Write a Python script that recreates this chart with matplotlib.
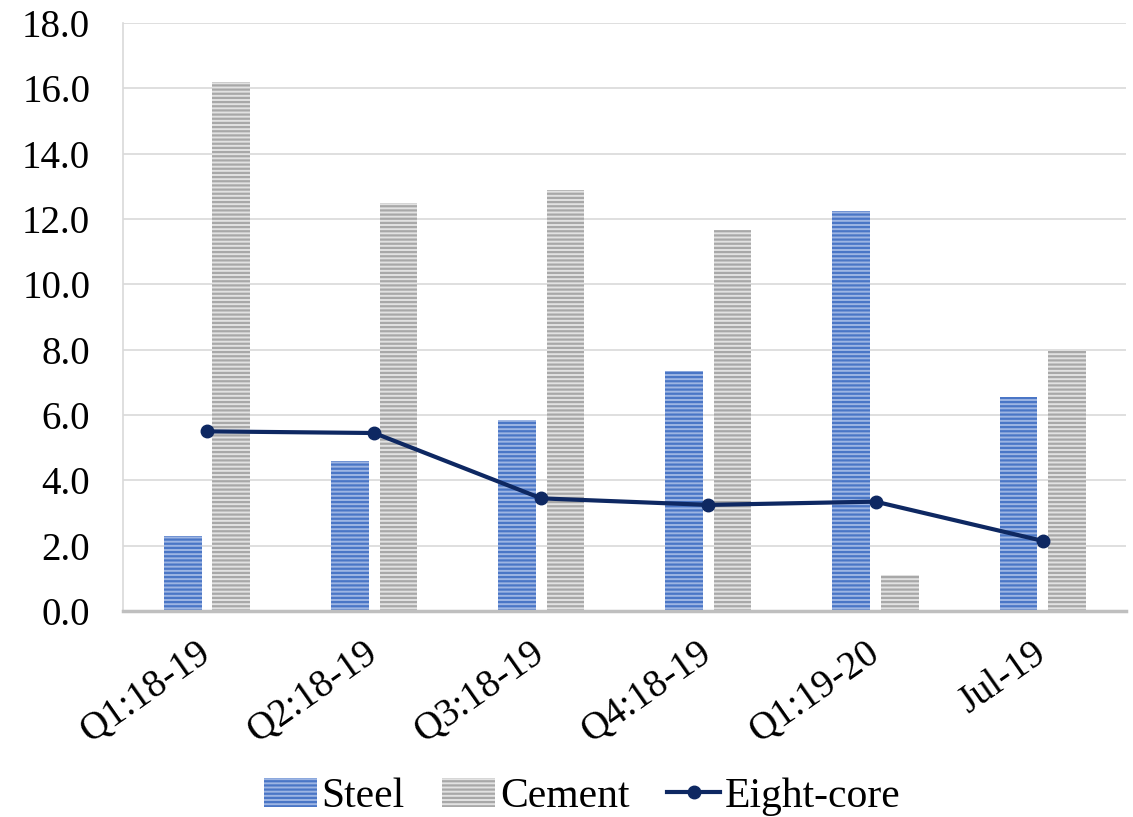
import numpy as np
import matplotlib.pyplot as plt

# data
categories = ['Q1:18-19', 'Q2:18-19', 'Q3:18-19', 'Q4:18-19', 'Q1:19-20', 'Jul-19']
steel      = [2.3, 4.6, 5.85, 7.35, 12.25, 6.55]
cement     = [16.2, 12.5, 12.9, 11.65, 1.1, 7.95]
eight_core = [5.5, 5.45, 3.45, 3.25, 3.35, 2.15]
yticks     = [0, 2, 4, 6, 8, 10, 12, 14, 16, 18]

plt.rcParams['font.family'] = ['Liberation Serif', 'DejaVu Serif']
plt.rcParams['hatch.linewidth'] = 1.6

fig = plt.figure(figsize=(11.33, 8.17), dpi=100)
ax = fig.add_axes([0.109, 0.252, 0.885, 0.72])

x = np.arange(len(categories))
w = 0.225
b1 = ax.bar(x - 0.145, steel, w, color='#9DB5E3', edgecolor='#4A76C6', hatch='----',
            linewidth=0, label='Steel', zorder=2)
b2 = ax.bar(x + 0.145, cement, w, color='#E2E2E2', edgecolor='#A8A8A8', hatch='----',
            linewidth=0, label='Cement', zorder=2)
l1, = ax.plot(x, eight_core, color='#0E2862', linewidth=3, marker='o', markersize=9,
              label='Eight-core', zorder=3)

ax.set_xlim(-0.5, len(categories) - 0.5)
ax.set_ylim(0, 18)
ax.set_yticks(yticks)
ax.set_yticklabels([f'{v:.1f}' for v in yticks], fontsize=28)
ax.set_xticks(x)
ax.set_xticklabels(categories, fontsize=28, rotation=35, ha='right', va='center',
                   rotation_mode='anchor')
ax.tick_params(axis='both', length=0)
ax.tick_params(axis='y', pad=24)
ax.tick_params(axis='x', pad=28)
ax.yaxis.grid(True, color='#D9D9D9', linewidth=1.2, zorder=0)
ax.set_axisbelow(True)

for s in ['top', 'right']:
    ax.spines[s].set_visible(False)
ax.spines['left'].set_color('#D9D9D9')
ax.spines['left'].set_linewidth(1.2)
ax.spines['bottom'].set_color('#BFBFBF')
ax.spines['bottom'].set_linewidth(2.5)

fig.legend([b1, b2, l1], ['Steel', 'Cement', 'Eight-core'], loc='center',
           bbox_to_anchor=(0.514, 0.025), ncol=3, frameon=False,
           fontsize=30, handlelength=1.27, handletextpad=0.12, columnspacing=0.9)

fig.savefig('out.png', dpi=100)
